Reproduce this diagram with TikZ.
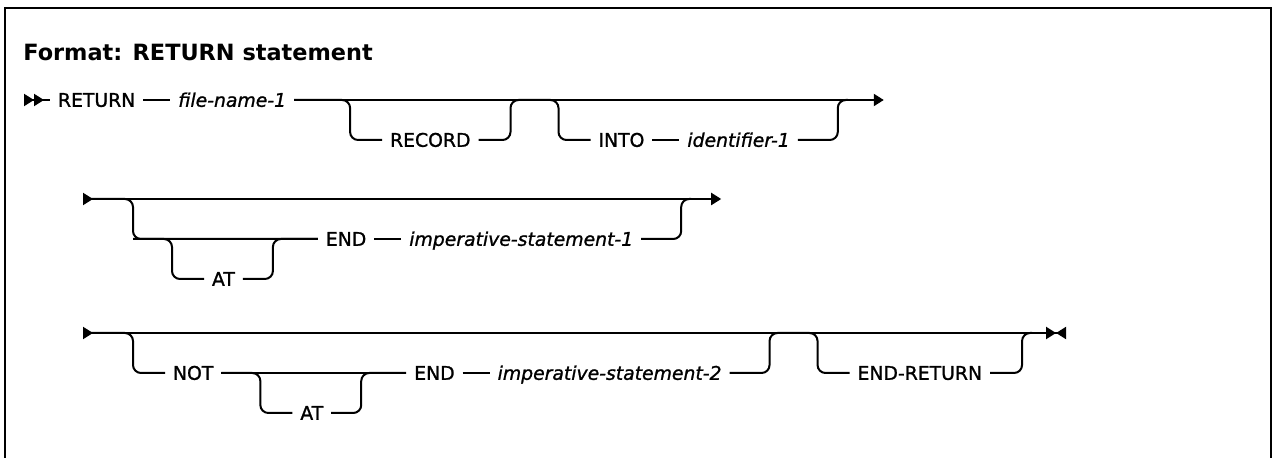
\documentclass[tikz,border=0pt]{standalone}
\usepackage{fontspec}
\setmainfont{DejaVu Sans}
\newfontfamily\railfont{DejaVu Sans}[FakeBold=1.2]
\usetikzlibrary{arrows.meta}
\usetikzlibrary{positioning}

\begin{document}
\begin{tikzpicture}[x=0.5pt,y=-0.5pt,
  >={Triangle[length=5pt,width=6pt,sep=0pt]},
  rail/.style={line width=1pt},
  loop/.style={rail,rounded corners=4pt},
  kw/.style={inner xsep=4pt,inner ysep=0pt,outer sep=0pt,text height=6.8pt,text depth=0pt,font=\railfont\fontsize{9.4pt}{11pt}\selectfont},
  var/.style={kw,font=\railfont\fontsize{9.4pt}{11pt}\selectfont\itshape}]
\useasboundingbox (0,0) rectangle (1273,458);
\draw[line width=1.3pt] (5,458) -- (5,8) -- (1271,8) -- (1271,458);
\node[anchor=base west,inner sep=0pt,font=\fontsize{11.2pt}{13pt}\selectfont\bfseries] (head) at (23,61) {Format: RETURN statement};

% first line
\coordinate (s1) at (24,100);
\node[kw,anchor=west] (ret) at (50,100) {RETURN};
\node[var,right=13.5pt of ret] (fn) {file-name-1};
\coordinate[right=28pt of fn] (v1);
\node[kw,right=16pt of v1,yshift=-20pt] (rec) {RECORD};
\coordinate[right=16pt of rec] (v2b);
\coordinate (v2) at (v2b |- v1);
\coordinate[right=24pt of v2] (v3);
\node[kw,right=16pt of v3,yshift=-20pt] (into) {INTO};
\node[var,right=13.5pt of into] (id) {identifier-1};
\coordinate[right=20pt of id] (v4b);
\coordinate (v4) at (v4b |- v1);
\coordinate[right=23pt of v4] (e1);
\draw[rail,>>-] (s1) -- (ret);
\draw[rail] (ret) -- (fn);
\draw[rail,->] (fn) -- (e1);
\draw[loop] (fn.east) -| (v1 |- rec) -- (rec.west);
\draw[loop] (rec.east) -| (v2) -- (v3) |- (into.west);
\draw[rail] (into) -- (id);
\draw[loop] (id.east) -| (v4) -- ++(10,0);

% second line
\coordinate (s2) at (83,199);
\coordinate (v5) at (133,199);
\coordinate[below=20pt of v5] (v5b);
\coordinate[right=19.5pt of v5b] (v6);
\node[kw,right=16pt of v6,yshift=-20pt] (at1) {AT};
\coordinate[right=15pt of at1] (v7b);
\coordinate (v7) at (v7b |- v6);
\node[kw,right=22.5pt of v7] (end1) {END};
\node[var,right=13.5pt of end1] (imp1) {imperative-statement-1};
\coordinate[right=20pt of imp1] (v8b);
\coordinate (v8) at (v8b |- s2);
\coordinate[right=20pt of v8] (e2);
\draw[rail,>->] (s2) -- (e2);
\draw[loop] (s2) -| (v5b) -- (end1);
\draw[loop] (v5b) -| (v6 |- at1) -- (at1.west);
\draw[loop] (at1.east) -| (v7) -- (end1);
\draw[rail] (end1) -- (imp1);
\draw[loop] (imp1.east) -| (v8) -- ++(10,0);

% third line
\coordinate (s3) at (83,333);
\coordinate (v9) at (133,333);
\coordinate[below=20pt of v9] (v9b);
\node[kw,right=16pt of v9b] (not) {NOT};
\coordinate[right=19.5pt of not] (v10);
\node[kw,right=16pt of v10,yshift=-20pt] (at2) {AT};
\coordinate[right=15pt of at2] (v11b);
\coordinate (v11) at (v11b |- v10);
\node[kw,right=22.5pt of v11] (end2) {END};
\node[var,right=13.5pt of end2] (imp2) {imperative-statement-2};
\coordinate[right=20pt of imp2] (v12b);
\coordinate (v12) at (v12b |- s3);
\coordinate[right=24pt of v12] (v13);
\node[kw,right=16pt of v13,yshift=-20pt] (endr) {END-RETURN};
\coordinate[right=16pt of endr] (v14b);
\coordinate (v14) at (v14b |- s3);
\coordinate[right=22pt of v14] (e3);
\draw[rail,>-><] (s3) -- (e3);
\draw[loop] (s3) -| (v9b) -- (not);
\draw[rail] (not) -- (end2);
\draw[loop] (not.east) -| (v10 |- at2) -- (at2.west);
\draw[loop] (at2.east) -| (v11) -- (end2);
\draw[rail] (end2) -- (imp2);
\draw[loop] (imp2.east) -| (v12) -- (v13) |- (endr.west);
\draw[loop] (endr.east) -| (v14) -- ++(10,0);
\end{tikzpicture}
\end{document}
